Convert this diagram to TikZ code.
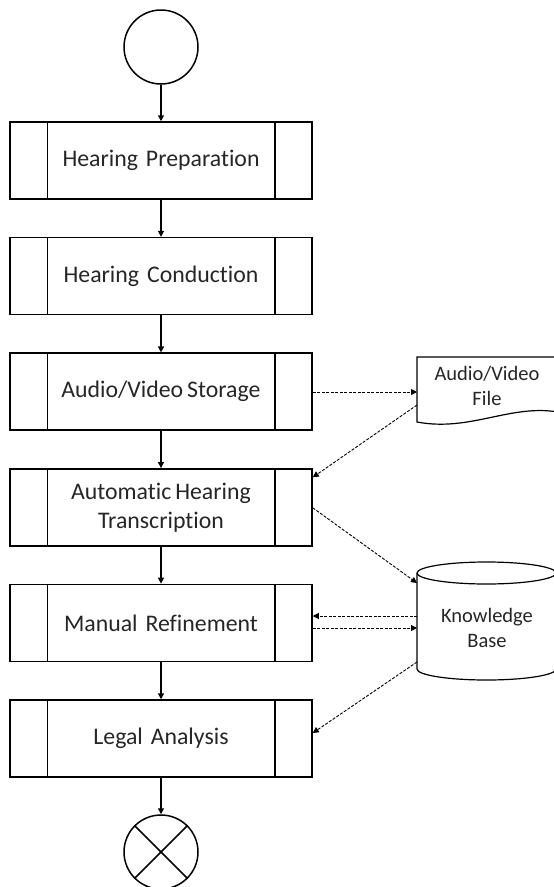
\documentclass[tikz,border=0pt]{standalone}
\usepackage{fontspec}
\setmainfont{Carlito}[Ligatures={NoCommon}]
\usetikzlibrary{arrows.meta,calc}
\begin{document}
\begin{tikzpicture}[x=1pt,y=-1pt,
  proc/.style={draw, line width=1.5pt, minimum width=302pt, minimum height=77pt, inner sep=0pt,
    text width=220pt, align=center, font=\fontsize{23.8}{29}\selectfont, text=black!85},
  circ/.style={draw, circle, line width=1.5pt, minimum size=74pt, inner sep=0pt},
  flow/.style={line width=1.3pt, -{Triangle[length=6pt,width=6pt]}},
  data/.style={line width=0.9pt, dash pattern=on 3pt off 1.5pt, -{Triangle[length=6pt,width=6pt]}},
  side/.style={line width=1.5pt},
  store/.style={line width=1.2pt},
  lbl/.style={font=\fontsize{20.5}{25}\selectfont, align=center, text=black!85}
]
\useasboundingbox (0,0) rectangle (554,887);
\clip (0,0) rectangle (554,887);

% start and end
\node[circ] (start) at (161,47) {};
\node[circ] (end) at (161,852) {};
\draw[line width=1.5pt] (end.north west) -- (end.south east);
\draw[line width=1.5pt] (end.north east) -- (end.south west);

% process boxes
\node[proc] (b1) at (161,160.5) {Hearing Preparation};
\node[proc] (b2) at (161,276.1) {Hearing Conduction};
\node[proc] (b3) at (161,391.7) {Audio/Video\,Storage};
\node[proc] (b4) at (161,507.3) {Automatic\,Hearing\\Transcription};
\node[proc] (b5) at (161,622.9) {Manual Refinement};
\node[proc] (b6) at (161,738.5) {Legal Analysis};
\foreach \b in {b1,b2,b3,b4,b5,b6}{
  \draw[side] ([xshift=38pt]\b.north west) -- ([xshift=38pt]\b.south west);
  \draw[side] ([xshift=-38pt]\b.north east) -- ([xshift=-38pt]\b.south east);
}

% main flow
\draw[flow] (start) -- (b1);
\draw[flow] (b1) -- (b2);
\draw[flow] (b2) -- (b3);
\draw[flow] (b3) -- (b4);
\draw[flow] (b4) -- (b5);
\draw[flow] (b5) -- (b6);
\draw[flow] (b6) -- (end);

% document: Audio/Video File
\draw[store, fill=white] (417,357) -- (558,357) -- (558,412)
  .. controls (510,404) and (470,432) .. (417,422) -- cycle;
\node[lbl] (doc) at (487,386) {Audio/Video\\File};
\coordinate (docin) at (417,392);
\coordinate (docout) at (417,405);

% cylinder: Knowledge Base
\draw[store, fill=white] (417,573) -- (417,669) arc[start angle=180, end angle=360, x radius=69.5pt, y radius=11pt]
  -- (556,573);
\draw[store] (486.5,573) ellipse[x radius=69.5pt, y radius=11pt];
\node[lbl] (kb) at (487,628) {Knowledge\\Base};
\coordinate (kbin1) at (417,583);
\coordinate (kbout1) at (417,616);
\coordinate (kbin2) at (417,628);
\coordinate (kbout2) at (417,662);

% data connectors
\draw[data] (b3.east |- docin) -- (docin);
\draw[data] (docout) -- ([yshift=30pt]b4.east);
\draw[data] ([yshift=-0.5pt]b4.east) -- (kbin1);
\draw[data] (kbout1) -- (b5.east |- kbout1);
\draw[data] (b5.east |- kbin2) -- (kbin2);
\draw[data] (kbout2) -- ([yshift=5.5pt]b6.east);
\end{tikzpicture}
\end{document}
